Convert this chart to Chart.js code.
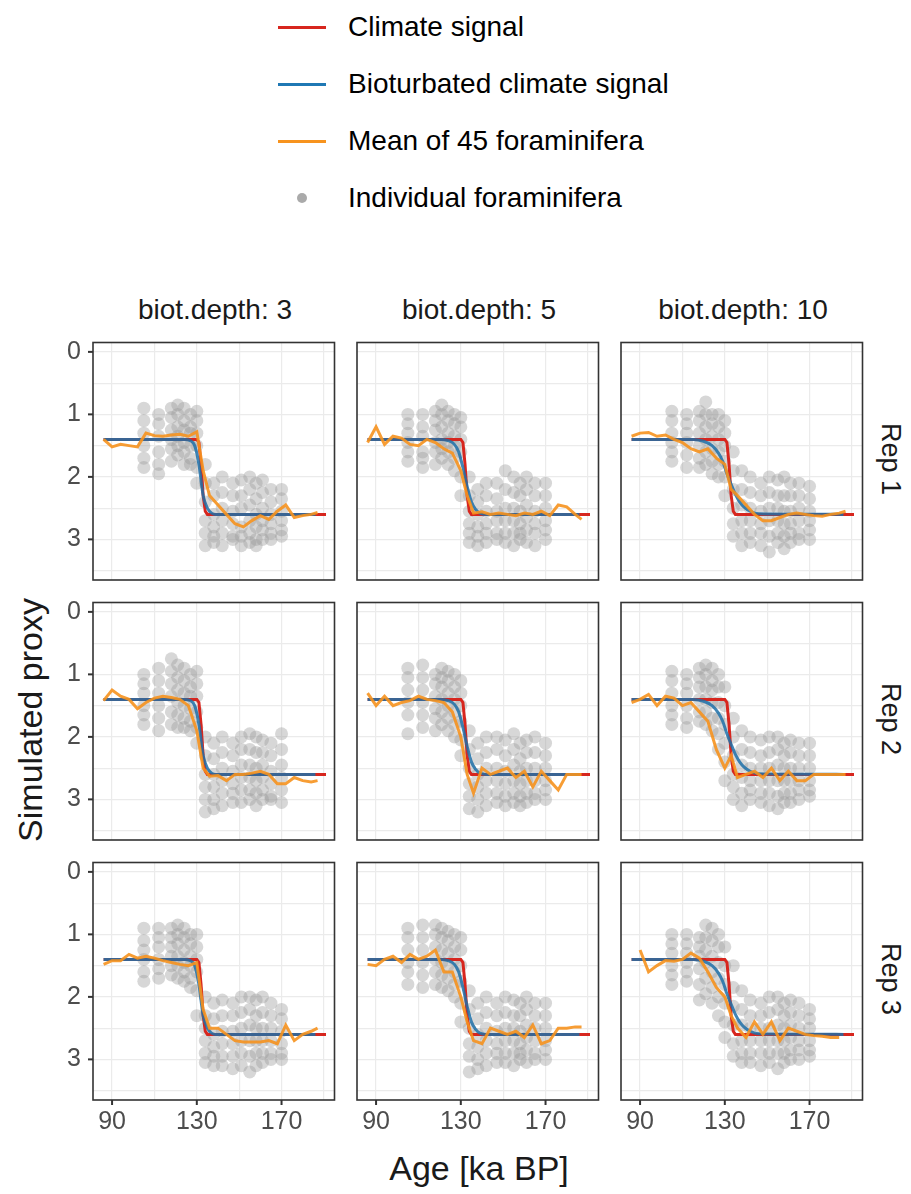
<!DOCTYPE html>
<html>
<head>
<meta charset="utf-8">
<script src="https://cdn.jsdelivr.net/npm/chart.js@4"></script>
<style>
  body { margin:0; width:911px; height:1194px; background:#fff; font-family:"Liberation Sans", Arial, sans-serif; position:relative; overflow:hidden; }
  canvas { position:absolute; }
  .t { position:absolute; white-space:nowrap; color:#1a1a1a; }
  .leg { position:absolute; left:278px; font-size:28px; color:#000; }
  .leg .ln { position:absolute; left:0; width:48px; height:3px; }
  .leg .tx { position:absolute; left:70px; white-space:nowrap; top:-16px; }
</style>
</head>
<body>
<div id="legend"></div>
<div id="labels"></div>
<script>
// category labels
const depths = [3, 5, 10];
const reps = ['Rep 1', 'Rep 2', 'Rep 3'];
const xTickLabels = [90, 130, 170];
const yTickLabels = [0, 1, 2, 3];

// climate signal (same in every panel)
const climateAge = [86, 130, 131, 132, 133, 134, 135, 191];
const climateVal = [1.4, 1.4, 1.45, 1.8, 2.3, 2.55, 2.6, 2.6];

// bioturbated signal by depth
const bioAge = [86, 115, 120, 124, 127, 129, 131, 133, 135, 137, 139, 142, 146, 186];
const bioVal = {
  3:  [1.4, 1.4, 1.4, 1.4, 1.42, 1.5, 1.8, 2.3, 2.5, 2.58, 2.6, 2.6, 2.6, 2.6],
  5:  [1.4, 1.4, 1.4, 1.42, 1.48, 1.6, 1.85, 2.15, 2.4, 2.52, 2.58, 2.6, 2.6, 2.6],
  10: [1.4, 1.4, 1.43, 1.5, 1.62, 1.75, 1.95, 2.12, 2.28, 2.4, 2.48, 2.55, 2.59, 2.6]
};

// mean of 45 foraminifera, per panel [rep][depth column]
const meanAge = [86, 90, 94, 98, 102, 106, 110, 114, 118, 122, 126, 130, 133, 136, 140, 144, 148, 152, 156, 160, 164, 168, 172, 176, 180, 184, 187];
const meanVal = [
  [
    [1.4, 1.52, 1.48, 1.5, 1.52, 1.3, 1.34, 1.35, 1.33, 1.32, 1.35, 1.28, 1.9, 2.3, 2.45, 2.6, 2.75, 2.8, 2.7, 2.62, 2.68, 2.55, 2.45, 2.65, 2.62, 2.6, 2.57],
    [1.45, 1.2, 1.48, 1.35, 1.38, 1.48, 1.5, 1.4, 1.45, 1.55, 1.62, 1.9, 2.3, 2.58, 2.56, 2.6, 2.58, 2.6, 2.62, 2.58, 2.6, 2.55, 2.62, 2.45, 2.48, 2.6, 2.68],
    [1.35, 1.3, 1.29, 1.35, 1.33, 1.4, 1.45, 1.55, 1.6, 1.55, 1.7, 1.8, 2.2, 2.3, 2.45, 2.6, 2.7, 2.7, 2.65, 2.6, 2.58, 2.6, 2.62, 2.63, 2.6, 2.58, 2.55]
  ],
  [
    [1.42, 1.25, 1.35, 1.4, 1.55, 1.45, 1.38, 1.35, 1.37, 1.4, 1.5, 1.9, 2.5, 2.63, 2.62, 2.7, 2.6, 2.6, 2.58, 2.55, 2.6, 2.75, 2.75, 2.65, 2.7, 2.72, 2.7],
    [1.3, 1.5, 1.35, 1.5, 1.45, 1.42, 1.35, 1.4, 1.42, 1.45, 1.6, 2.0, 2.6, 2.9, 2.5, 2.6, 2.55, 2.5, 2.65, 2.55, 2.8, 2.55, 2.7, 2.85, 2.6, 2.6, 2.6],
    [1.45, 1.4, 1.32, 1.5, 1.35, 1.38, 1.5, 1.45, 1.6, 1.75, 2.2, 2.5, 2.3, 2.65, 2.6, 2.55, 2.65, 2.5, 2.7, 2.55, 2.7, 2.7, 2.6, 2.6, 2.6, 2.6, 2.6]
  ],
  [
    [1.48, 1.42, 1.42, 1.32, 1.38, 1.35, 1.38, 1.42, 1.45, 1.48, 1.5, 1.45, 2.2, 2.5, 2.5, 2.6, 2.7, 2.72, 2.72, 2.72, 2.7, 2.75, 2.45, 2.7, 2.6, 2.55, 2.5],
    [1.48, 1.5, 1.4, 1.35, 1.45, 1.32, 1.4, 1.35, 1.25, 1.6, 1.6, 2.0, 2.4, 2.7, 2.75, 2.5, 2.55, 2.6, 2.55, 2.65, 2.45, 2.75, 2.7, 2.5, 2.5, 2.48, 2.48],
    [null, 1.25, 1.6, 1.5, 1.42, 1.43, 1.4, 1.3, 1.38, 1.6, 1.85, 2.0, 2.3, 2.5, 2.65, 2.4, 2.6, 2.4, 2.7, 2.5, 2.55, 2.6, 2.62, 2.63, 2.65, 2.65, null]
  ]
];

// individual foraminifera: ages of sampled depths and values per panel
const foramAge = [105, 112, 118, 121, 124, 127, 130, 134, 138, 142, 147, 151, 155, 158, 161, 165, 170];
const foramVal = [
  [
    [[0.9,1.1,1.3,1.5,1.7,1.85],[1.0,1.15,1.35,1.6,1.8,1.95],[0.9,1.05,1.25,1.4,1.55,1.75],[0.85,1.0,1.2,1.35,1.5,1.65],[0.9,1.1,1.25,1.45,1.6,1.8],[1.0,1.2,1.3,1.5,1.7,1.8],[0.95,1.1,1.3,1.5,1.85,2.1],[1.8,2.1,2.4,2.7,2.9,3.1],[2.1,2.3,2.6,2.8,2.95,3.05],[2.0,2.25,2.5,2.7,2.9,3.1],[2.1,2.3,2.55,2.75,2.95,3.0],[2.05,2.3,2.5,2.8,2.95,3.1],[2.0,2.2,2.45,2.7,2.9,3.05],[2.1,2.35,2.6,2.8,3.0,3.1],[2.05,2.25,2.5,2.7,2.85,3.0],[2.2,2.4,2.6,2.75,2.9,3.0],[2.2,2.35,2.55,2.7,2.85,2.95]],
    [[1.0,1.15,1.3,1.45,1.6,1.75],[1.0,1.2,1.35,1.6,1.7,1.85],[0.95,1.1,1.25,1.45,1.6,1.8],[0.85,1.0,1.2,1.4,1.55,1.7],[0.95,1.1,1.3,1.45,1.6,1.8],[1.0,1.15,1.35,1.5,1.7,1.9],[1.05,1.2,1.4,1.6,2.0,2.3],[2.0,2.3,2.55,2.75,2.9,3.05],[2.2,2.4,2.6,2.8,2.95,3.1],[2.1,2.3,2.55,2.75,2.9,3.05],[2.1,2.35,2.55,2.7,2.9,3.0],[1.9,2.2,2.5,2.7,2.9,3.05],[2.0,2.25,2.5,2.7,2.9,3.1],[2.1,2.3,2.55,2.75,2.9,3.0],[2.0,2.2,2.45,2.65,2.85,3.05],[2.1,2.3,2.55,2.75,2.9,3.1],[2.1,2.3,2.5,2.7,2.85,3.0]],
    [[0.95,1.1,1.3,1.45,1.6,1.75],[1.0,1.15,1.3,1.45,1.65,1.85],[0.95,1.1,1.3,1.5,1.7,1.85],[0.8,1.0,1.2,1.4,1.6,1.8],[1.0,1.15,1.35,1.55,1.75,1.95],[1.0,1.2,1.4,1.6,1.8,2.0],[1.1,1.3,1.5,1.75,2.0,2.3],[1.6,1.9,2.2,2.5,2.75,2.95],[1.9,2.2,2.45,2.7,2.9,3.1],[2.0,2.25,2.5,2.7,2.9,3.05],[2.1,2.3,2.55,2.75,2.9,3.1],[2.0,2.25,2.5,2.7,2.95,3.2],[2.05,2.3,2.5,2.7,2.9,3.05],[2.0,2.3,2.55,2.75,2.95,3.15],[2.1,2.3,2.55,2.75,2.9,3.05],[2.1,2.3,2.5,2.7,2.9,3.0],[2.15,2.35,2.55,2.7,2.85,3.0]]
  ],
  [
    [[1.0,1.15,1.3,1.5,1.65,1.8],[0.9,1.1,1.3,1.5,1.7,1.9],[0.75,0.95,1.15,1.35,1.6,1.8],[0.85,1.05,1.25,1.45,1.65,1.85],[0.9,1.1,1.3,1.5,1.7,1.85],[1.0,1.2,1.35,1.55,1.75,1.9],[0.95,1.15,1.35,1.6,1.85,2.1],[2.0,2.3,2.6,2.8,3.0,3.2],[2.1,2.35,2.6,2.8,3.0,3.15],[2.0,2.25,2.5,2.7,2.9,3.1],[2.1,2.3,2.55,2.75,2.9,3.05],[2.0,2.2,2.45,2.65,2.85,3.05],[1.95,2.2,2.45,2.65,2.85,3.0],[2.0,2.25,2.5,2.7,2.9,3.1],[2.05,2.25,2.45,2.65,2.85,3.0],[2.1,2.3,2.55,2.75,2.95,3.0],[1.95,2.2,2.45,2.65,2.85,3.05]],
    [[0.9,1.05,1.25,1.45,1.65,1.95],[0.85,1.05,1.25,1.45,1.65,1.85],[1.0,1.15,1.35,1.55,1.7,1.9],[0.9,1.05,1.2,1.4,1.6,1.8],[0.95,1.1,1.3,1.5,1.7,1.9],[1.0,1.2,1.4,1.6,1.8,2.0],[1.1,1.3,1.5,1.75,2.05,2.3],[1.9,2.2,2.5,2.75,2.95,3.15],[2.1,2.35,2.6,2.8,3.0,3.2],[2.0,2.25,2.5,2.7,2.9,3.1],[2.0,2.2,2.5,2.7,2.9,3.05],[2.05,2.3,2.55,2.75,2.95,3.1],[1.95,2.2,2.45,2.7,2.9,3.05],[2.1,2.35,2.55,2.75,2.95,3.1],[2.05,2.25,2.5,2.7,2.9,3.05],[2.0,2.25,2.5,2.7,2.9,3.0],[2.1,2.3,2.5,2.7,2.85,3.0]],
    [[0.95,1.1,1.3,1.5,1.65,1.8],[1.0,1.15,1.3,1.5,1.7,1.85],[0.9,1.05,1.2,1.4,1.6,1.75],[0.85,1.0,1.2,1.4,1.6,1.8],[0.9,1.1,1.25,1.45,1.7,1.9],[1.0,1.2,1.45,1.7,1.95,2.2],[1.2,1.5,1.8,2.1,2.4,2.7],[1.7,2.0,2.3,2.6,2.8,3.0],[1.9,2.2,2.45,2.65,2.9,3.1],[2.0,2.25,2.5,2.7,2.85,3.0],[2.05,2.3,2.5,2.7,2.9,3.05],[2.0,2.25,2.5,2.7,2.9,3.1],[2.0,2.2,2.45,2.7,2.95,3.15],[2.1,2.3,2.5,2.7,2.9,3.05],[2.05,2.25,2.5,2.7,2.9,3.05],[2.1,2.3,2.5,2.7,2.85,3.0],[2.1,2.3,2.5,2.7,2.85,2.95]]
  ],
  [
    [[0.9,1.1,1.25,1.4,1.6,1.75],[0.9,1.05,1.2,1.4,1.55,1.7],[0.9,1.05,1.2,1.35,1.5,1.65],[0.85,1.0,1.15,1.35,1.5,1.7],[0.9,1.05,1.25,1.45,1.6,1.75],[1.0,1.15,1.35,1.5,1.7,1.85],[1.0,1.2,1.4,1.6,1.9,2.3],[2.0,2.3,2.5,2.7,2.9,3.05],[2.1,2.35,2.6,2.8,2.95,3.1],[2.05,2.3,2.55,2.75,2.95,3.1],[2.1,2.3,2.55,2.75,2.95,3.15],[2.0,2.25,2.5,2.7,2.9,3.1],[2.0,2.2,2.45,2.7,2.95,3.2],[2.05,2.3,2.5,2.7,2.9,3.1],[2.0,2.25,2.5,2.7,2.9,3.05],[2.1,2.3,2.5,2.7,2.9,3.0],[2.2,2.35,2.55,2.75,2.9,3.0]],
    [[0.9,1.05,1.25,1.45,1.6,1.8],[0.85,1.05,1.25,1.45,1.65,1.85],[0.85,1.0,1.2,1.4,1.6,1.8],[0.9,1.05,1.25,1.45,1.65,1.85],[0.95,1.1,1.3,1.5,1.7,1.9],[1.0,1.2,1.4,1.6,1.8,2.0],[1.05,1.25,1.5,1.75,2.1,2.4],[1.9,2.2,2.5,2.75,2.95,3.2],[2.1,2.35,2.6,2.8,3.0,3.15],[2.0,2.25,2.5,2.7,2.9,3.1],[2.1,2.3,2.55,2.75,2.9,3.05],[2.0,2.25,2.5,2.7,2.9,3.05],[2.05,2.3,2.5,2.7,2.9,3.1],[2.1,2.3,2.55,2.75,2.9,3.0],[2.0,2.2,2.45,2.65,2.85,3.05],[2.1,2.3,2.5,2.7,2.9,3.0],[2.1,2.3,2.5,2.7,2.85,3.0]],
    [[1.0,1.15,1.3,1.5,1.65,1.8],[1.0,1.15,1.3,1.45,1.6,1.75],[1.05,1.2,1.35,1.55,1.8,2.05],[0.85,1.05,1.25,1.45,1.7,1.95],[0.9,1.1,1.35,1.6,1.85,2.1],[1.0,1.2,1.45,1.7,2.0,2.3],[1.2,1.5,1.8,2.1,2.4,2.65],[1.5,1.85,2.15,2.45,2.75,2.95],[1.9,2.2,2.45,2.7,2.9,3.05],[2.05,2.3,2.5,2.7,2.9,3.05],[2.1,2.3,2.5,2.7,2.9,3.1],[2.0,2.25,2.5,2.7,2.9,3.05],[2.0,2.2,2.45,2.7,2.9,3.15],[2.1,2.3,2.5,2.7,2.9,3.05],[2.05,2.25,2.45,2.65,2.85,3.0],[2.1,2.3,2.5,2.7,2.85,3.0],[2.2,2.35,2.5,2.7,2.85,2.95]]
  ]
];

const colLeft = [93, 357, 621];
const rowTop = [338, 598, 858];
const panelW = 244, panelH = 242;
const RED = '#d7261e', BLUE = 'rgba(31,112,168,0.85)', ORANGE = 'rgba(246,146,30,0.9)', GREY = 'rgba(155,155,155,0.4)';
const TICK_FONT = '25px "Liberation Sans", Arial, sans-serif';

// frame, tick marks and tick labels drawn around the chart area
const frameTicks = {
  id: 'frameTicks',
  afterDraw(chart, args, opts) {
    const { ctx, chartArea: a, scales } = chart;
    ctx.save();
    ctx.strokeStyle = '#333'; ctx.lineWidth = 2;
    ctx.fillStyle = '#4d4d4d'; ctx.font = TICK_FONT;
    if (opts.left) yTickLabels.forEach(v => {
      const y = scales.y.getPixelForValue(v);
      ctx.beginPath(); ctx.moveTo(a.left - 5, y); ctx.lineTo(a.left, y); ctx.stroke();
      ctx.textAlign = 'right'; ctx.textBaseline = 'middle';
      ctx.fillText(String(v), a.left - 12, y);
    });
    if (opts.bottom) xTickLabels.forEach(v => {
      const x = scales.x.getPixelForValue(v);
      ctx.beginPath(); ctx.moveTo(x, a.bottom); ctx.lineTo(x, a.bottom + 5); ctx.stroke();
      ctx.textAlign = 'center'; ctx.textBaseline = 'top';
      ctx.fillText(String(v), x, a.bottom + 10);
    });
    ctx.lineWidth = 1.6;
    ctx.strokeRect(a.left, a.top, a.right - a.left, a.bottom - a.top);
    ctx.restore();
  }
};

const pairs = (xs, ys) => xs.map((x, i) => ({ x, y: ys[i] }));

rowTop.forEach((top, r) => {
  colLeft.forEach((left, c) => {
    const W = 60 + panelW + 4, H = panelH + 2 + 50;
    const cv = document.createElement('canvas');
    cv.width = W; cv.height = H;
    cv.style.left = (left - 60) + 'px';
    cv.style.top = (top - 2) + 'px';
    cv.style.width = W + 'px';
    cv.style.height = H + 'px';
    document.body.appendChild(cv);

    const pts = [];
    foramAge.forEach((a, i) => foramVal[r][c][i].forEach(v => pts.push({ x: a, y: v })));
    const d = depths[c];

    new Chart(cv, {
      type: 'scatter',
      data: {
        datasets: [
          { data: pts, pointRadius: 6.5, pointBackgroundColor: GREY, pointBorderWidth: 0, showLine: false, order: 4 },
          { data: pairs(climateAge, climateVal), showLine: true, borderColor: RED, borderWidth: 3, pointRadius: 0, order: 3 },
          { data: pairs(bioAge, bioVal[d]), showLine: true, borderColor: BLUE, borderWidth: 3, pointRadius: 0, cubicInterpolationMode: 'monotone', order: 2 },
          { data: pairs(meanAge, meanVal[r][c]), showLine: true, borderColor: ORANGE, borderWidth: 3, pointRadius: 0, spanGaps: false, order: 1 }
        ]
      },
      options: {
        responsive: false, animation: false, events: [], devicePixelRatio: 1,
        layout: { padding: { top: 2, right: 4, left: 0, bottom: 0 } },
        plugins: { legend: { display: false }, tooltip: { enabled: false }, frameTicks: { left: c === 0, bottom: r === 2 } },
        scales: {
          x: {
            type: 'linear', min: 81, max: 195,
            afterBuildTicks: s => { s.ticks = [90, 110, 130, 150, 170, 190].map(v => ({ value: v })); },
            afterFit: s => { s.height = 50; },
            grid: { color: '#ebebeb', lineWidth: 1.2, drawTicks: false },
            border: { display: false },
            ticks: { display: false }
          },
          y: {
            type: 'linear', min: -0.15, max: 3.65, reverse: true,
            afterBuildTicks: s => { s.ticks = [0, 0.5, 1, 1.5, 2, 2.5, 3, 3.5].map(v => ({ value: v })); },
            afterFit: s => { s.width = 60; },
            grid: { color: '#ebebeb', lineWidth: 1.2, drawTicks: false },
            border: { display: false },
            ticks: { display: false }
          }
        }
      },
      plugins: [frameTicks]
    });
  });
});

// legend
const legendItems = [
  { label: 'Climate signal', color: RED, type: 'line' },
  { label: 'Bioturbated climate signal', color: '#1f78b4', type: 'line' },
  { label: 'Mean of 45 foraminifera', color: '#f7931e', type: 'line' },
  { label: 'Individual foraminifera', color: '#aaa', type: 'dot' }
];
const legend = document.getElementById('legend');
legendItems.forEach((it, i) => {
  const el = document.createElement('div');
  el.className = 'leg';
  el.style.top = (27 + i * 57) + 'px';
  const mark = it.type === 'line'
    ? `<div class="ln" style="background:${it.color};top:-1px"></div>`
    : `<div style="position:absolute;left:19px;top:-5px;width:10px;height:10px;border-radius:50%;background:${it.color}"></div>`;
  el.innerHTML = mark + `<div class="tx">${it.label}</div>`;
  legend.appendChild(el);
});

// strip and axis labels
const labels = document.getElementById('labels');
function addText(txt, x, y, size, rot) {
  const el = document.createElement('div');
  el.className = 't';
  el.textContent = txt;
  el.style.fontSize = size + 'px';
  el.style.left = x + 'px'; el.style.top = y + 'px';
  el.style.transform = `translate(-50%,-50%)` + (rot ? ` rotate(${rot}deg)` : '');
  labels.appendChild(el);
}
depths.forEach((d, c) => addText('biot.depth: ' + d, colLeft[c] + panelW / 2, 310, 28));
reps.forEach((t, r) => addText(t, 890, rowTop[r] + panelH / 2, 27, 90));
addText('Simulated proxy', 30, 720, 34, -90);
addText('Age [ka BP]', 479, 1168, 34);
</script>
</body>
</html>
